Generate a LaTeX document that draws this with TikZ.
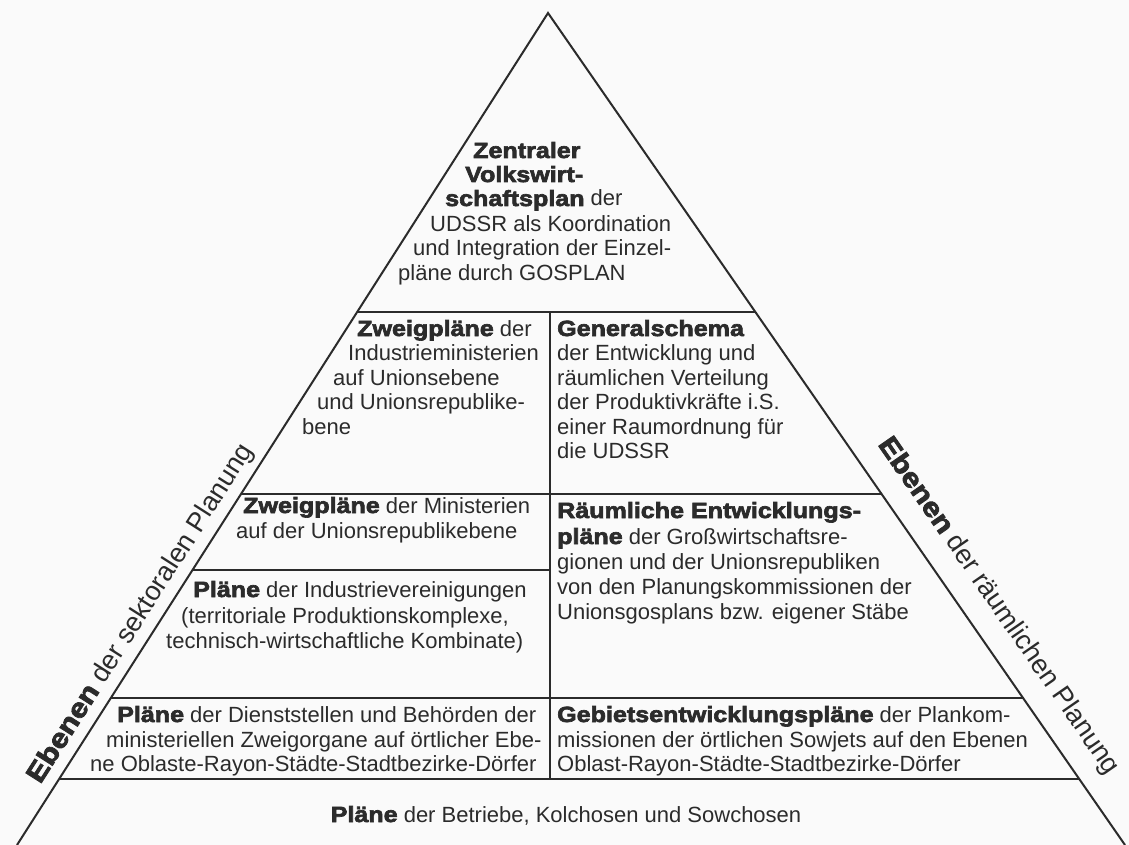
\documentclass[tikz,border=0pt]{standalone}
\usepackage{fontspec}
\setmainfont{Liberation Sans}
\newfontface\heavyface[FakeBold=3,FakeStretch=1.14]{Liberation Sans Bold}
\usetikzlibrary{calc}
\definecolor{ink}{HTML}{2B2B2B}
\definecolor{paper}{HTML}{FAFAFA}
\newcommand{\hb}[1]{{\heavyface #1}}
\begin{document}
\begin{tikzpicture}[x=1pt,y=-1pt,
  edge/.style={draw=ink,line width=2pt},
  txt/.style={anchor=base west,inner sep=0pt,text=ink,font=\fontsize{22}{24}\selectfont},
  lbl/.style={inner sep=0pt,text=ink,font=\fontsize{27}{30}\selectfont,sloped}]
\fill[paper] (0,0) rectangle (1129,845);
\useasboundingbox (0,0) rectangle (1129,845);

\coordinate (apex) at (548,13);
\coordinate (bl) at (17,845);
\coordinate (br) at (1125,845);
\coordinate (L1) at ($(apex)!0.3594!(bl)$);
\coordinate (R1) at ($(apex)!0.3594!(br)$);
\coordinate (L2) at ($(apex)!0.5781!(bl)$);
\coordinate (R2) at ($(apex)!0.5781!(br)$);
\coordinate (L3) at ($(apex)!0.6695!(bl)$);
\coordinate (L4) at ($(apex)!0.8233!(bl)$);
\coordinate (R4) at ($(apex)!0.8233!(br)$);
\coordinate (L5) at ($(apex)!0.9207!(bl)$);
\coordinate (R5) at ($(apex)!0.9207!(br)$);
\coordinate (dtop) at (550,312);

\draw[edge] (bl) -- (apex) -- (br);
\draw[edge] (L1) -- (R1);
\draw[edge] (L2) -- (R2);
\draw[edge] (L3) -- (L3 -| dtop);
\draw[edge] (L4) -- (R4);
\draw[edge] (L5) -- (R5);
\draw[edge] (dtop) -- (dtop |- L5);

% apex block
\node[txt] (a1) at (473,158) {\hb{Zentraler}};
\node[txt] (a2) at (465,182) {\hb{Volkswirt-}};
\node[txt] (a3) at (445,206) {\hb{schaftsplan} der};
\node[txt] (a4) at (430,231) {UDSSR als Koordination};
\node[txt] (a5) at (413,255) {und Integration der Einzel-};
\node[txt] (a6) at (398,280) {pläne durch GOSPLAN};

% left upper
\node[txt] (b1) at (357,336) {\hb{Zweigpläne} der};
\node[txt] (b2) at (348,360) {Industrieministerien};
\node[txt] (b3) at (333,385) {auf Unionsebene};
\node[txt] (b4) at (317,409) {und Unionsrepublike-};
\node[txt] (b5) at (302,434) {bene};

% right upper
\node[txt] (c1) at (557,336) {\hb{Generalschema}};
\node[txt] (c2) at (557,360) {der Entwicklung und};
\node[txt] (c3) at (557,385) {räumlichen Verteilung};
\node[txt] (c4) at (557,409) {der Produktivkräfte i.S.};
\node[txt] (c5) at (557,434) {einer Raumordnung für};
\node[txt] (c6) at (557,458) {die UDSSR};

% left middle
\node[txt] (d1) at (243,513) {\hb{Zweigpläne} der Ministerien};
\node[txt] (d2) at (236,538) {auf der Unionsrepublikebene};

% right middle
\node[txt] (e1) at (557,518) {\hb{Räumliche Entwicklungs-}};
\node[txt] (e2) at (557,544) {\hb{pläne} der Großwirtschaftsre-};
\node[txt] (e3) at (557,569) {gionen und der Unionsrepubliken};
\node[txt] (e4) at (557,594) {von den Planungskommissionen der};
\node[txt] (e5) at (557,619) {Unionsgosplans bzw. eigener Stäbe};

% left lower
\node[txt] (f1) at (193,597) {\hb{Pläne} der Industrievereinigungen};
\node[txt] (f2) at (181,623) {(territoriale Produktionskomplexe,};
\node[txt] (f3) at (166,648) {technisch-wirtschaftliche Kombinate)};

% bottom left
\node[txt] (g1) at (117,722) {\hb{Pläne} der Dienststellen und Behörden der};
\node[txt] (g2) at (106,747) {ministeriellen Zweigorgane auf örtlicher Ebe-};
\node[txt] (g3) at (90,771) {ne Oblaste-Rayon-Städte-Stadtbezirke-Dörfer};

% bottom right
\node[txt] (h1) at (557,722) {\hb{Gebietsentwicklungspläne} der Plankom-};
\node[txt] (h2) at (557,747) {missionen der örtlichen Sowjets auf den Ebenen};
\node[txt] (h3) at (557,771) {Oblast-Rayon-Städte-Stadtbezirke-Dörfer};

% base
\node[txt,anchor=base] (k1) at (566,822) {\hb{Pläne} der Betriebe, Kolchosen und Sowchosen};

% side labels
\path (bl) -- node[lbl,pos=0.265,above=7pt] (lblL) {\hb{Ebenen} der sektoralen Planung} (apex);
\path (apex) -- node[lbl,pos=0.735,above=19pt] (lblR) {\hb{Ebenen} der räumlichen Planung} (br);
\end{tikzpicture}
\end{document}
